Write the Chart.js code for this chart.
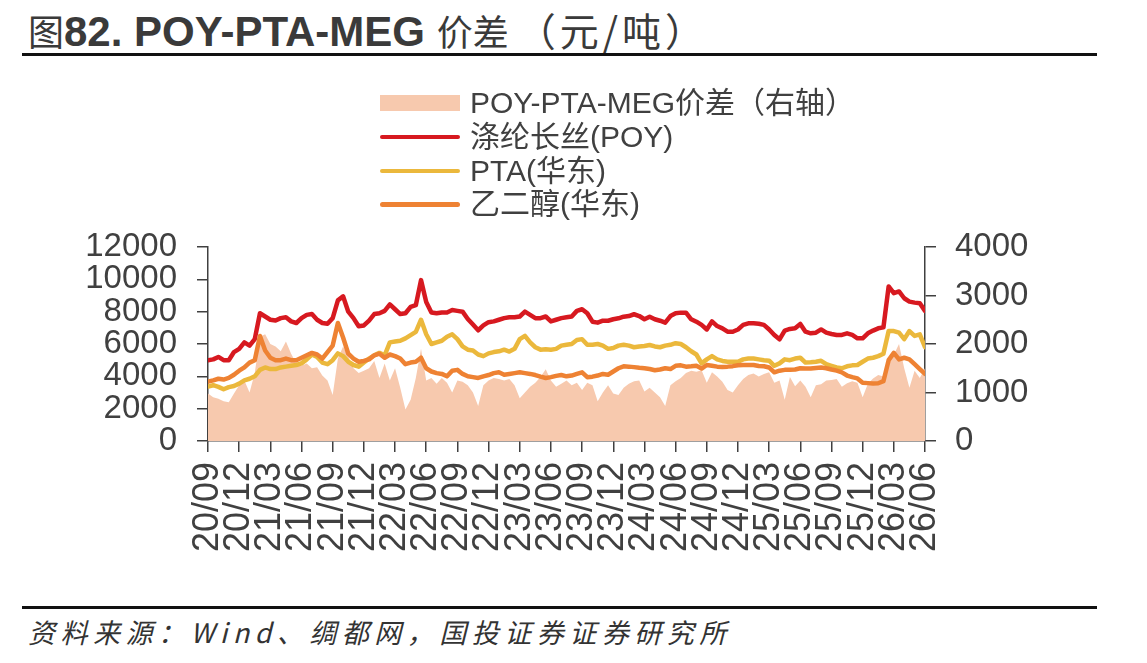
<!DOCTYPE html>
<html>
<head>
<meta charset="utf-8">
<script src="https://cdn.jsdelivr.net/npm/chart.js@4.4.1/dist/chart.umd.min.js"></script>
<style>
  html, body { margin: 0; padding: 0; background: #fff; }
  body { width: 1147px; height: 663px; position: relative; overflow: hidden;
    font-family: "Liberation Sans", Arial, "Noto Sans CJK SC", sans-serif; color: #404040; }
  #title { position: absolute; left: 28px; top: 6px; height: 46px; line-height: 46px; white-space: nowrap; color: #3a3a3a; }
  #title .lat { font-weight: bold; font-size: 42px; }
  #title .cjk { font-family: "Noto Sans CJK SC", sans-serif; font-size: 36px; }
  #title .unit { font-size: 39px; letter-spacing: 4px; }
  .rule { position: absolute; left: 22px; width: 1075px; height: 3px; background: #111; }
  #chart-wrap { position: absolute; left: 0; top: 0; width: 1147px; height: 600px; }
  #legend { position: absolute; left: 380px; top: 0; }
  .leg-row { position: absolute; left: 0; height: 34px; width: 560px; }
  .leg-sw { position: absolute; left: 0; width: 80px; }
  .leg-txt { position: absolute; left: 90px; top: 0; line-height: 34px; font-size: 30px; white-space: nowrap;
    font-family: "Liberation Sans", Arial, "Noto Sans CJK SC", sans-serif; color: #404040; }
  #footer { position: absolute; left: 28px; top: 615px; font-size: 27px; line-height: 34px; font-style: italic;
    letter-spacing: 5.5px; white-space: nowrap; color: #333;
    font-family: "Noto Sans CJK SC", "Liberation Sans", sans-serif; }
</style>
</head>
<body>
<div id="title"><span class="cjk">图</span><span class="lat">82. POY-PTA-MEG </span><span class="cjk">价差 <span class="unit">（元/吨）</span></span></div>
<div class="rule" style="top:53px"></div>
<div id="chart-wrap"><canvas id="chart"></canvas></div>
<div id="legend"></div>
<div class="rule" style="top:606px"></div>
<div id="footer">资料来源：Wind、绸都网，国投证券证券研究所</div>

<script>
/* POY-PTA-MEG spread chart, semi-monthly points from 2020/09 */

const QUARTERS = ['20/09', '20/12', '21/03', '21/06', '21/09', '21/12', '22/03', '22/06',
  '22/09', '22/12', '23/03', '23/06', '23/09', '23/12', '24/03', '24/06',
  '24/09', '24/12', '25/03', '25/06', '25/09', '25/12', '26/03', '26/06'];

// 涤纶长丝(POY), 元/吨
const POY = [
  5000, 5050, 5200, 5000, 5000, 5500, 5700, 6100, 5900, 6300, 7900, 7700, 7500, 7450, 7600, 7650, 7400, 7300,
  7600, 7800, 7850, 7500, 7300, 7250, 7600, 8700, 8950, 8000, 7600, 7100, 7150, 7450, 7850, 7900, 8050, 8450,
  8150, 7850, 7900, 8300, 8400, 9950, 8600, 7950, 7900, 7950, 7950, 8100, 8050, 8000, 7550, 7200, 6850, 7150,
  7350, 7400, 7500, 7600, 7650, 7650, 7700, 8000, 7800, 7600, 7600, 7700, 7400, 7500, 7600, 7650, 7700, 8050,
  8150, 7900, 7380, 7320, 7440, 7440, 7530, 7590, 7690, 7730, 7840, 7730, 7530, 7690, 7530, 7440, 7320, 7730,
  7900, 7940, 7940, 7530, 7380, 7180, 6900, 7400, 7110, 6970, 6760, 6760, 6900, 7180, 7280, 7280, 7250,
  7180, 6900, 6560, 6290, 6830, 6930, 6970, 7240, 6760, 6660, 6700, 6900, 6700, 6620, 6560, 6560,
  6660, 6560, 6350, 6350, 6660, 6830, 6970, 7030, 9560, 9140, 9250, 8830, 8620, 8560, 8520, 8050
];

// PTA(华东)
const PTA = [
  3360, 3450, 3350, 3200, 3330, 3400, 3550, 3750, 3850, 4000, 4400, 4550, 4450, 4450, 4550, 4600, 4650, 4700,
  4800, 5050, 5350, 5200, 4850, 4750, 5000, 5420, 5250, 4900, 4700, 4600, 4850, 5100, 5300, 5450, 5300, 6100,
  6150, 6200, 6350, 6550, 6750, 7500, 6600, 6000, 6100, 6200, 6450, 6600, 6300, 5850, 5650, 5600, 5350, 5250,
  5420, 5500, 5550, 5650, 5530, 5700, 6300, 6500, 6100, 5800, 5650, 5680, 5650, 5700, 5900, 5950, 6000, 6250,
  6300, 5950, 5950, 6000, 5900, 5700, 5750, 5900, 5950, 5900, 5800, 5850, 5880, 5940, 5850, 5800, 5900, 5950,
  6050, 6000, 5800, 5550, 5350, 4800, 5050, 5250, 5050, 4950, 4900, 4900, 4900, 5050, 5100, 5100, 5050,
  5000, 4970, 4650, 4800, 5050, 5000, 5100, 5150, 4850, 4870, 4900, 4960, 4750, 4650, 4550, 4500,
  4620, 4680, 4700, 4900, 5100, 5150, 5250, 5400, 6800, 6800, 6700, 6300, 6800, 6500, 6600, 5800
];

// 乙二醇(华东)
const MEG = [
  3670, 3750, 3850, 3800, 3900, 4100, 4350, 4550, 4850, 5000, 6500, 5600, 5150, 5000, 5000, 5100, 5000, 5000,
  5150, 5300, 5450, 5350, 5100, 5500, 5900, 7300, 6400, 5400, 5100, 4900, 4950, 5050, 5300, 5400, 5150, 5350,
  5250, 5100, 4750, 4850, 4900, 5150, 4500, 4300, 4200, 4150, 4000, 4350, 4400, 4150, 4000, 3950, 3900, 4000,
  4080, 4200, 4250, 4100, 4150, 4200, 4250, 4200, 4150, 4080, 3980, 3900, 3950, 4030, 4080, 4000, 4050, 4150,
  4250, 3950, 3980, 4050, 4150, 4100, 4300, 4500, 4620, 4600, 4570, 4530, 4500, 4450, 4380, 4420, 4500, 4450,
  4650, 4680, 4600, 4620, 4650, 4480, 4700, 4650, 4600, 4580, 4600, 4630, 4680, 4700, 4700, 4700, 4640,
  4620, 4550, 4250, 4350, 4400, 4400, 4420, 4500, 4480, 4480, 4520, 4540, 4500, 4420, 4350, 4250,
  4050, 3950, 3870, 3600, 3580, 3560, 3570, 3700, 5000, 5450, 5050, 5150, 5050, 4750, 4450, 4150
];

// POY-PTA-MEG价差 (right axis)
const SPREAD = [
  980, 900, 870, 820, 800, 980, 1150, 1250, 1000, 1400, 2150, 2200, 2000, 1950, 1850, 2050, 1800, 1600,
  1550, 1600, 1500, 1520, 1350, 1250, 950, 1700, 1950, 1750, 1500, 1400, 1450, 1500, 1650, 1300, 1600, 1250,
  1500, 1100, 650, 850, 1300, 1900, 1250, 1300, 1180, 1300, 1200, 1000, 1250, 1220, 1150, 1000, 720, 1150,
  1250, 1300, 1280, 1250, 1280, 1150, 880, 1000, 1120, 1200, 1320, 1480, 1250, 1120, 1180, 1250, 1150, 1200,
  1050, 1200, 1150, 820, 1000, 1150, 980, 950, 1100, 1180, 1230, 1250, 1020, 1100, 1000, 900, 720, 1150,
  1230, 1300, 1400, 1450, 1430, 1460, 1200, 1420, 1330, 1220, 1050, 1000, 1150, 1280, 1360, 1390, 1330,
  1380, 1420, 1200, 1250, 850, 1320, 1130, 1250, 1120, 900, 1150, 1170, 1250, 1260, 1280, 1120,
  1190, 1230, 1200, 900, 1180, 1290, 1360, 1330, 1650, 1780, 2000, 1500, 1100, 1450, 1300, 1500
];

const C = { fill: '#f7c9ae', red: '#d71920', yellow: '#ebb83c', orange: '#ee8233', axis: '#404040' };
const FONT = '"Liberation Sans", Arial, sans-serif';

const pts = arr => arr.map((v, i) => ({ x: i, y: v }));
const line = (label, arr, color, order) => ({
  label, data: pts(arr), yAxisID: 'y', borderColor: color, backgroundColor: color,
  borderWidth: 4.5, pointRadius: 0, fill: false, order, borderJoinStyle: 'round', borderCapStyle: 'round'
});

const axisTicks = { color: C.axis, font: { size: 33, family: FONT }, autoSkip: false };
const axisGrid = { drawOnChartArea: false, drawTicks: true, tickLength: 11, color: C.axis, lineWidth: 1.5 };
const axisBorder = { display: true, color: C.axis, width: 1.5 };

const chart = new Chart(document.getElementById('chart'), {
  type: 'line',
  data: {
    datasets: [
      { label: 'POY-PTA-MEG价差（右轴）', data: pts(SPREAD), yAxisID: 'y1', fill: 'origin',
        backgroundColor: C.fill, borderColor: 'rgba(0,0,0,0)', borderWidth: 0, pointRadius: 0, order: 4 },
      line('涤纶长丝(POY)', POY, C.red, 3),
      line('PTA(华东)', PTA, C.yellow, 2),
      line('乙二醇(华东)', MEG, C.orange, 1),
    ],
  },
  options: {
    responsive: true, maintainAspectRatio: false, animation: false,
    layout: { padding: { top: 247, left: 0, right: 0, bottom: 0 } },
    plugins: { legend: { display: false }, tooltip: { enabled: false } },
    scales: {
      x: {
        type: 'linear', min: 0, max: 138,
        ticks: { ...axisTicks, font: { size: 36, family: FONT }, stepSize: 6, minRotation: 90, maxRotation: 90,
          padding: 10, callback: v => QUARTERS[Math.round(v / 6)] },
        grid: axisGrid, border: axisBorder,
        afterFit: s => { s.height = 159; },
      },
      y: {
        position: 'left', min: 0, max: 12000,
        ticks: { ...axisTicks, stepSize: 2000, padding: 20, callback: v => String(v) },
        grid: axisGrid, border: axisBorder,
        afterFit: s => { s.width = 208; },
      },
      y1: {
        position: 'right', min: 0, max: 4000,
        ticks: { ...axisTicks, stepSize: 1000, padding: 19, callback: v => String(v) },
        grid: axisGrid, border: axisBorder,
        afterFit: s => { s.width = 222; },
      },
    },
  },
});

// legend, one item per row, built from the datasets
const legend = document.getElementById('legend');
chart.data.datasets.forEach((d, i) => {
  const row = document.createElement('div');
  row.className = 'leg-row';
  row.style.top = (86 + i * 33.8) + 'px';
  const isFill = d.fill === 'origin';
  const sw = document.createElement('div');
  sw.className = 'leg-sw';
  sw.style.background = isFill ? d.backgroundColor : d.borderColor;
  sw.style.height = isFill ? '16px' : '4.5px';
  sw.style.top = isFill ? '9px' : '15px';
  if (!isFill) sw.style.borderRadius = '3px';
  const tx = document.createElement('div');
  tx.className = 'leg-txt';
  tx.textContent = d.label;
  row.appendChild(sw);
  row.appendChild(tx);
  legend.appendChild(row);
});
</script>
</body>
</html>
